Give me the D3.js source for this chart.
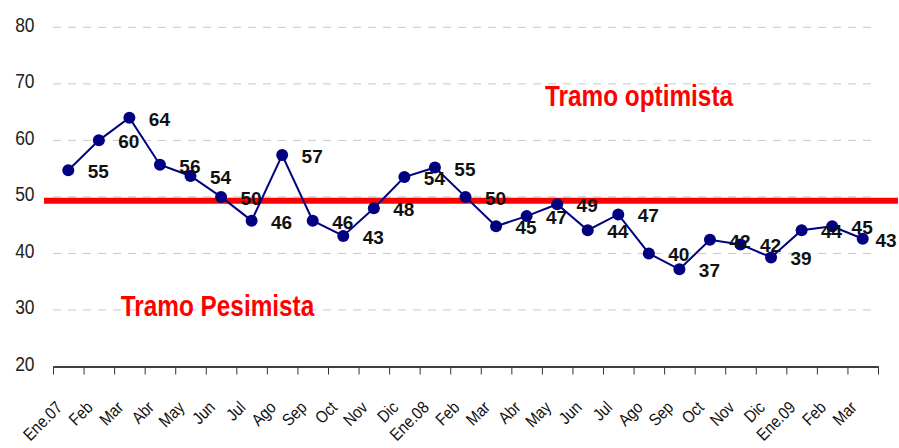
<!DOCTYPE html>
<html>
<head>
<meta charset="utf-8">
<script src="https://cdn.jsdelivr.net/npm/d3@7"></script>
<style>
  body { margin: 0; background: #fff; }
  svg { display: block; }
</style>
</head>
<body>
<div id="chart"></div>
<script>
// months, Ene.07 .. Mar 09
let months = ["Ene.07", "Feb", "Mar", "Abr", "May", "Jun", "Jul", "Ago", "Sep", "Oct", "Nov", "Dic",
  "Ene.08", "Feb", "Mar", "Abr", "May", "Jun", "Jul", "Ago", "Sep", "Oct", "Nov", "Dic",
  "Ene.09", "Feb", "Mar"];
let values = [54.7, 60, 64, 55.7, 53.7, 50, 45.8, 57.4, 45.8, 43.1, 48, 53.5,
  55.2, 50, 44.8, 46.6, 48.7, 44.1, 46.9, 40, 37.2, 42.4, 41.6, 39.3,
  44.1, 44.8, 42.6];
let yTicks = [20, 30, 40, 50, 60, 70, 80];
let threshold = 49.3;
let zoneLabels = ["Tramo optimista", "Tramo Pesimista"];

let w = 899, h = 448;
let padLeft = 53, padRight = 878, padTop = 27.3, padBottom = 366.5;
let narrow = "'Liberation Sans', Arial, sans-serif"; // squeezed with scale() below, no narrow font here

let svg = d3.select("#chart").append("svg")
  .attr("width", w).attr("height", h);

let x = d3.scaleBand().domain(d3.range(months.length)).range([padLeft, padRight]).padding(0);
let edge = d3.scaleLinear().domain([0, months.length]).range([padLeft, padRight]);
let y = d3.scaleLinear().domain([20, 80]).range([padBottom, padTop]);
let cx = i => x(i) + x.bandwidth() / 2;

// dashed grid
svg.append("g").selectAll("line")
  .data(yTicks.filter(d => d > 20))
  .enter().append("line")
  .attr("x1", padLeft).attr("x2", padRight - 1)
  .attr("y1", d => y(d)).attr("y2", d => y(d))
  .attr("stroke", "#c8c8c8")
  .attr("stroke-width", 1)
  .attr("stroke-dasharray", "8,7");

// y labels
svg.append("g").selectAll("text")
  .data(yTicks)
  .enter().append("text")
  .text(d => d)
  .attr("transform", d => "translate(34.5," + (y(d) + 4.5) + ") scale(0.87,1)")
  .attr("text-anchor", "end")
  .attr("font-family", narrow)
  .attr("font-size", 20)
  .attr("fill", "#222");

// x axis, ticks at month edges
let xAxis = d3.axisBottom(edge)
  .tickValues(d3.range(months.length + 1))
  .tickSize(8)
  .tickSizeOuter(0)
  .tickFormat("");
let gx = svg.append("g")
  .attr("transform", "translate(0," + padBottom + ")")
  .call(xAxis);
gx.select(".domain").attr("stroke", "#000").attr("stroke-width", 1.5);
gx.selectAll(".tick line").attr("stroke", "#333");

svg.append("g").selectAll("text")
  .data(months)
  .enter().append("text")
  .text(d => d)
  .attr("transform", (d, i) => "translate(" + (cx(i) - 5) + "," + (padBottom + 42) + ") rotate(-45) scale(0.87,1)")
  .attr("text-anchor", "end")
  .attr("font-family", narrow)
  .attr("font-size", 17)
  .attr("fill", "#111");

// threshold line
svg.append("line")
  .attr("x1", 44).attr("x2", 898)
  .attr("y1", y(threshold)).attr("y2", y(threshold))
  .attr("stroke", "#ff0000")
  .attr("stroke-width", 6);

// series
let line = d3.line()
  .x((d, i) => cx(i))
  .y(d => y(d));

svg.append("path")
  .datum(values)
  .attr("d", line)
  .attr("fill", "none")
  .attr("stroke", "#000080")
  .attr("stroke-width", 2);

svg.append("g").selectAll("circle")
  .data(values)
  .enter().append("circle")
  .attr("cx", (d, i) => cx(i))
  .attr("cy", d => y(d))
  .attr("r", 6)
  .attr("fill", "#000080");

// value labels sit one step to the right, kept inside the frame
svg.append("g").selectAll("text")
  .data(values)
  .enter().append("text")
  .text(d => Math.round(d))
  .attr("x", (d, i) => Math.min(cx(i) + 30, w - 13))
  .attr("y", d => y(d) + 8)
  .attr("text-anchor", "middle")
  .attr("font-family", "'Liberation Sans', Arial, sans-serif")
  .attr("font-weight", "bold")
  .attr("font-size", 19)
  .attr("fill", "#111");

// zone labels
svg.append("text")
  .text(zoneLabels[0])
  .attr("transform", "translate(639,106) scale(0.84,1)")
  .attr("text-anchor", "middle")
  .attr("font-family", narrow)
  .attr("font-weight", "bold")
  .attr("font-size", 29)
  .attr("fill", "#ff0000");

svg.append("text")
  .text(zoneLabels[1])
  .attr("transform", "translate(217.5,316) scale(0.84,1)")
  .attr("text-anchor", "middle")
  .attr("font-family", narrow)
  .attr("font-weight", "bold")
  .attr("font-size", 29)
  .attr("fill", "#ff0000");
</script>
</body>
</html>
